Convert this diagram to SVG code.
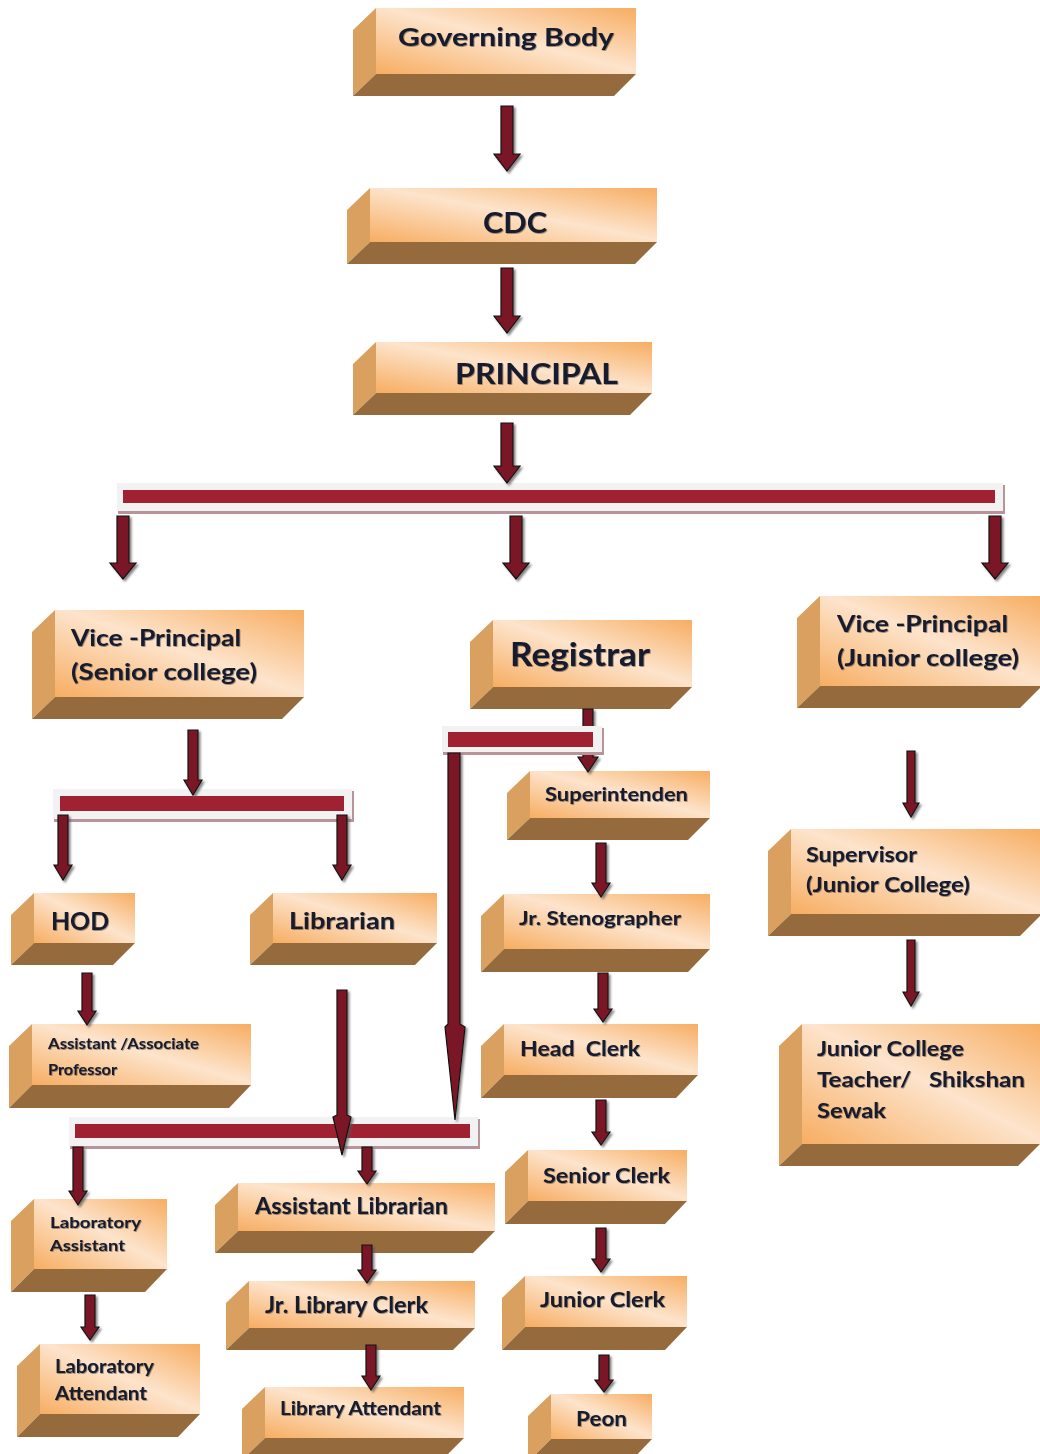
<svg xmlns="http://www.w3.org/2000/svg" width="1040" height="1454" viewBox="0 0 1040 1454">
<defs>
<linearGradient id="face" x1="1" y1="0" x2="0" y2="1">
<stop offset="0" stop-color="#F7AD62"/>
<stop offset="0.48" stop-color="#FDE4CC"/>
<stop offset="1" stop-color="#F7AD62"/>
</linearGradient>
<filter id="ash" x="-50%" y="-10%" width="200%" height="120%">
<feDropShadow dx="2" dy="2" stdDeviation="1" flood-color="#555" flood-opacity="0.7"/>
</filter>
<filter id="tsh" x="-5%" y="-20%" width="110%" height="140%">
<feDropShadow dx="0.8" dy="0.8" stdDeviation="0.7" flood-color="#000" flood-opacity="0.45"/>
</filter>
</defs>
<style>
.f{fill:url(#face)}
.s{fill:#D9A05F}
.b{fill:#956B3E}
.t{font-family:Lato,"Open Sans","Liberation Sans",sans-serif;font-weight:bold;fill:#141a2e;white-space:pre;filter:url(#tsh)}
.ar{fill:#7A1826;stroke:#111;stroke-width:1.2;stroke-linejoin:miter}
.bg{fill:#F2F2F2}
.bs{fill:#B8939A}
.br{fill:#A02232}
</style>
<rect width="1040" height="1454" fill="#fff"/>

<g id="nodes">
<g id="governing-body">
<rect class="f" x="376" y="8" width="260" height="66"/>
<polygon class="s" points="353,30 376,8 376,74 353,96"/>
<polygon class="b" points="353,96 376,74 636,74 614,96"/>
<text class="t" x="398" y="46" font-size="25" textLength="216" lengthAdjust="spacingAndGlyphs">Governing Body</text>
</g>
<g id="cdc">
<rect class="f" x="370" y="188" width="287" height="54"/>
<polygon class="s" points="347,210 370,188 370,242 347,264"/>
<polygon class="b" points="347,264 370,242 657,242 635,264"/>
<text class="t" x="483" y="233" font-size="29" textLength="64" lengthAdjust="spacingAndGlyphs">CDC</text>
</g>
<g id="principal">
<rect class="f" x="376" y="342" width="276" height="51"/>
<polygon class="s" points="353,364 376,342 376,393 353,415"/>
<polygon class="b" points="353,415 376,393 652,393 630,415"/>
<text class="t" x="455" y="384" font-size="29" textLength="163" lengthAdjust="spacingAndGlyphs">PRINCIPAL</text>
</g>
<g id="vp-senior">
<rect class="f" x="55" y="610" width="249" height="87"/>
<polygon class="s" points="32,632 55,610 55,697 32,719"/>
<polygon class="b" points="32,719 55,697 304,697 282,719"/>
<text class="t" x="71" y="646" font-size="22" textLength="170" lengthAdjust="spacingAndGlyphs">Vice -Principal</text>
<text class="t" x="71" y="680" font-size="22" textLength="186" lengthAdjust="spacingAndGlyphs">(Senior college)</text>
</g>
<g id="registrar">
<rect class="f" x="493" y="620" width="199" height="67"/>
<polygon class="s" points="470,642 493,620 493,687 470,709"/>
<polygon class="b" points="470,709 493,687 692,687 670,709"/>
<text class="t" x="510" y="666" font-size="32" textLength="140" lengthAdjust="spacingAndGlyphs">Registrar</text>
</g>
<g id="vp-junior">
<rect class="f" x="820" y="596" width="222" height="90"/>
<polygon class="s" points="797,618 820,596 820,686 797,708"/>
<polygon class="b" points="797,708 820,686 1042,686 1020,708"/>
<text class="t" x="837" y="632" font-size="22" textLength="171" lengthAdjust="spacingAndGlyphs">Vice -Principal</text>
<text class="t" x="837" y="666" font-size="22" textLength="182" lengthAdjust="spacingAndGlyphs">(Junior college)</text>
</g>
<g id="supervisor">
<rect class="f" x="791" y="829" width="251" height="85"/>
<polygon class="s" points="768,851 791,829 791,914 768,936"/>
<polygon class="b" points="768,936 791,914 1042,914 1020,936"/>
<text class="t" x="806" y="862" font-size="21" textLength="111" lengthAdjust="spacingAndGlyphs">Supervisor</text>
<text class="t" x="806" y="892" font-size="21" textLength="164" lengthAdjust="spacingAndGlyphs">(Junior College)</text>
</g>
<g id="jc-teacher">
<rect class="f" x="802" y="1024" width="238" height="120"/>
<polygon class="s" points="779,1046 802,1024 802,1144 779,1166"/>
<polygon class="b" points="779,1166 802,1144 1040,1144 1018,1166"/>
<text class="t" x="817" y="1056" font-size="21" textLength="147" lengthAdjust="spacingAndGlyphs">Junior College</text>
<text class="t" x="817" y="1087" font-size="21" textLength="208" lengthAdjust="spacingAndGlyphs">Teacher/   Shikshan</text>
<text class="t" x="817" y="1118" font-size="21" textLength="69" lengthAdjust="spacingAndGlyphs">Sewak</text>
</g>
<g id="hod">
<rect class="f" x="34" y="893" width="101" height="50"/>
<polygon class="s" points="11,915 34,893 34,943 11,965"/>
<polygon class="b" points="11,965 34,943 135,943 113,965"/>
<text class="t" x="51" y="930" font-size="25" textLength="58" lengthAdjust="spacingAndGlyphs">HOD</text>
</g>
<g id="librarian">
<rect class="f" x="273" y="893" width="164" height="50"/>
<polygon class="s" points="250,915 273,893 273,943 250,965"/>
<polygon class="b" points="250,965 273,943 437,943 415,965"/>
<text class="t" x="289" y="929" font-size="23" textLength="106" lengthAdjust="spacingAndGlyphs">Librarian</text>
</g>
<g id="asst-professor">
<rect class="f" x="32" y="1024" width="219" height="61"/>
<polygon class="s" points="9,1046 32,1024 32,1085 9,1108"/>
<polygon class="b" points="9,1108 32,1085 251,1085 229,1108"/>
<text class="t" x="48" y="1049" font-size="15" textLength="151" lengthAdjust="spacingAndGlyphs">Assistant /Associate</text>
<text class="t" x="48" y="1075" font-size="15" textLength="69" lengthAdjust="spacingAndGlyphs">Professor</text>
</g>
<g id="lab-assistant">
<rect class="f" x="34" y="1199" width="133" height="70"/>
<polygon class="s" points="11,1221 34,1199 34,1269 11,1292"/>
<polygon class="b" points="11,1292 34,1269 167,1269 145,1292"/>
<text class="t" x="50" y="1228" font-size="16" textLength="91" lengthAdjust="spacingAndGlyphs">Laboratory</text>
<text class="t" x="50" y="1251" font-size="16" textLength="75" lengthAdjust="spacingAndGlyphs">Assistant</text>
</g>
<g id="lab-attendant">
<rect class="f" x="40" y="1344" width="160" height="70"/>
<polygon class="s" points="17,1366 40,1344 40,1414 17,1437"/>
<polygon class="b" points="17,1437 40,1414 200,1414 178,1437"/>
<text class="t" x="55" y="1373" font-size="18" textLength="99" lengthAdjust="spacingAndGlyphs">Laboratory</text>
<text class="t" x="55" y="1400" font-size="18" textLength="92" lengthAdjust="spacingAndGlyphs">Attendant</text>
</g>
<g id="asst-librarian">
<rect class="f" x="238" y="1183" width="257" height="48"/>
<polygon class="s" points="215,1205 238,1183 238,1231 215,1253"/>
<polygon class="b" points="215,1253 238,1231 495,1231 473,1253"/>
<text class="t" x="255" y="1214" font-size="22" textLength="193" lengthAdjust="spacingAndGlyphs">Assistant Librarian</text>
</g>
<g id="jr-library-clerk">
<rect class="f" x="249" y="1281" width="226" height="47"/>
<polygon class="s" points="226,1303 249,1281 249,1328 226,1350"/>
<polygon class="b" points="226,1350 249,1328 475,1328 453,1350"/>
<text class="t" x="265" y="1313" font-size="22" textLength="163" lengthAdjust="spacingAndGlyphs">Jr. Library Clerk</text>
</g>
<g id="library-attendant">
<rect class="f" x="265" y="1387" width="199" height="51"/>
<polygon class="s" points="242,1409 265,1387 265,1438 242,1460"/>
<polygon class="b" points="242,1460 265,1438 464,1438 442,1460"/>
<text class="t" x="280" y="1415" font-size="19" textLength="161" lengthAdjust="spacingAndGlyphs">Library Attendant</text>
</g>
<g id="superintendent">
<rect class="f" x="530" y="771" width="180" height="47"/>
<polygon class="s" points="507,793 530,771 530,818 507,840"/>
<polygon class="b" points="507,840 530,818 710,818 688,840"/>
<text class="t" x="545" y="801" font-size="18" textLength="143" lengthAdjust="spacingAndGlyphs">Superintenden</text>
</g>
<g id="jr-stenographer">
<rect class="f" x="504" y="894" width="206" height="55"/>
<polygon class="s" points="481,916 504,894 504,949 481,972"/>
<polygon class="b" points="481,972 504,949 710,949 688,972"/>
<text class="t" x="519" y="925" font-size="18" textLength="162" lengthAdjust="spacingAndGlyphs">Jr. Stenographer</text>
</g>
<g id="head-clerk">
<rect class="f" x="504" y="1024" width="194" height="51"/>
<polygon class="s" points="481,1046 504,1024 504,1075 481,1098"/>
<polygon class="b" points="481,1098 504,1075 698,1075 676,1098"/>
<text class="t" x="520" y="1056" font-size="21" textLength="120" lengthAdjust="spacingAndGlyphs">Head  Clerk</text>
</g>
<g id="senior-clerk">
<rect class="f" x="528" y="1150" width="159" height="51"/>
<polygon class="s" points="505,1172 528,1150 528,1201 505,1224"/>
<polygon class="b" points="505,1224 528,1201 687,1201 665,1224"/>
<text class="t" x="543" y="1183" font-size="21" textLength="127" lengthAdjust="spacingAndGlyphs">Senior Clerk</text>
</g>
<g id="junior-clerk">
<rect class="f" x="525" y="1276" width="162" height="51"/>
<polygon class="s" points="502,1298 525,1276 525,1327 502,1350"/>
<polygon class="b" points="502,1350 525,1327 687,1327 665,1350"/>
<text class="t" x="540" y="1307" font-size="21" textLength="125" lengthAdjust="spacingAndGlyphs">Junior Clerk</text>
</g>
<g id="peon">
<rect class="f" x="551" y="1394" width="101" height="45"/>
<polygon class="s" points="528,1416 551,1394 551,1439 528,1462"/>
<polygon class="b" points="528,1462 551,1439 652,1439 630,1462"/>
<text class="t" x="576" y="1426" font-size="21" textLength="51" lengthAdjust="spacingAndGlyphs">Peon</text>
</g>
</g>

<g id="connectors">
<!-- registrar to superintendent (behind small bar) -->
<path class="ar" filter="url(#ash)" d="M583,709 H593 V757 H598 L588,772 L578,757 H583 Z"/>
<!-- bars -->
<g id="bar-principal">
<rect class="bs" x="118" y="485" width="887" height="29"/>
<rect class="bg" x="117" y="483" width="886" height="28"/>
<rect class="br" x="123" y="490" width="872" height="13"/>
</g>
<g id="bar-vp-senior">
<rect class="bs" x="54" y="791" width="300" height="31"/>
<rect class="bg" x="53" y="789" width="299" height="30"/>
<rect class="br" x="60" y="796" width="284" height="15"/>
</g>
<g id="bar-registrar">
<rect class="bs" x="443" y="728" width="161" height="27"/>
<rect class="bg" x="442" y="726" width="160" height="26"/>
<rect class="br" x="448" y="732" width="145" height="15"/>
</g>
<g id="bar-library">
<rect class="bs" x="70" y="1119" width="410" height="30"/>
<rect class="bg" x="69" y="1117" width="409" height="29"/>
<rect class="br" x="75" y="1124" width="395" height="14"/>
</g>
<g filter="url(#ash)">
<!-- top chain -->
<path class="ar" d="M501,106 H513 V154 H520 L507,171 L494,154 H501 Z"/>
<path class="ar" d="M501,268 H513 V316 H520 L507,333 L494,316 H501 Z"/>
<path class="ar" d="M501,423 H513 V466 H520 L507,483 L494,466 H501 Z"/>
<path class="ar" d="M117,516 H129 V563 H136 L123,579 L110,563 H117 Z"/>
<path class="ar" d="M510,516 H522 V563 H529 L516,579 L503,563 H510 Z"/>
<path class="ar" d="M989,516 H1001 V563 H1008 L995,579 L982,563 H989 Z"/>
<!-- vp senior branch -->
<path class="ar" d="M188,730 H198 V780 H202 L193,795 L184,780 H188 Z"/>
<path class="ar" d="M58,815 H68 V865 H72 L63,880 L54,865 H58 Z"/>
<path class="ar" d="M337,815 H347 V865 H351 L342,880 L333,865 H337 Z"/>
<path class="ar" d="M82,973 H92 V1011 H96 L87,1025 L78,1011 H82 Z"/>
<!-- long arrows into library bar -->
<path class="ar" d="M337,990 H347 V1115 L351,1117 L342,1155 L333,1117 L337,1115 Z"/>
<path class="ar" d="M448,753 H460 V1024 L465,1027 L455,1120 L445,1027 L448,1024 Z"/>
<!-- library bar branches -->
<path class="ar" d="M73,1147 H83 V1191 H87 L78,1205 L69,1191 H73 Z"/>
<path class="ar" d="M362,1147 H372 V1171 H376 L367,1184 L358,1171 H362 Z"/>
<path class="ar" d="M85,1295 H95 V1327 H99 L90,1340 L81,1327 H85 Z"/>
<path class="ar" d="M362,1245 H372 V1270 H376 L367,1283 L358,1270 H362 Z"/>
<path class="ar" d="M366,1345 H376 V1376 H380 L371,1390 L362,1376 H366 Z"/>
<!-- registrar chain -->
<path class="ar" d="M596,843 H606 V883 H610 L601,897 L592,883 H596 Z"/>
<path class="ar" d="M598,973 H608 V1009 H612 L603,1022 L594,1009 H598 Z"/>
<path class="ar" d="M596,1100 H606 V1132 H610 L601,1145 L592,1132 H596 Z"/>
<path class="ar" d="M596,1228 H606 V1259 H610 L601,1272 L592,1259 H596 Z"/>
<path class="ar" d="M599,1355 H609 V1380 H613 L604,1392 L595,1380 H599 Z"/>
<!-- vp junior chain -->
<path class="ar" d="M907,751 H915 V803 H919 L911,817 L903,803 H907 Z"/>
<path class="ar" d="M907,940 H915 V992 H919 L911,1006 L903,992 H907 Z"/>
</g>
</g>
</svg>
